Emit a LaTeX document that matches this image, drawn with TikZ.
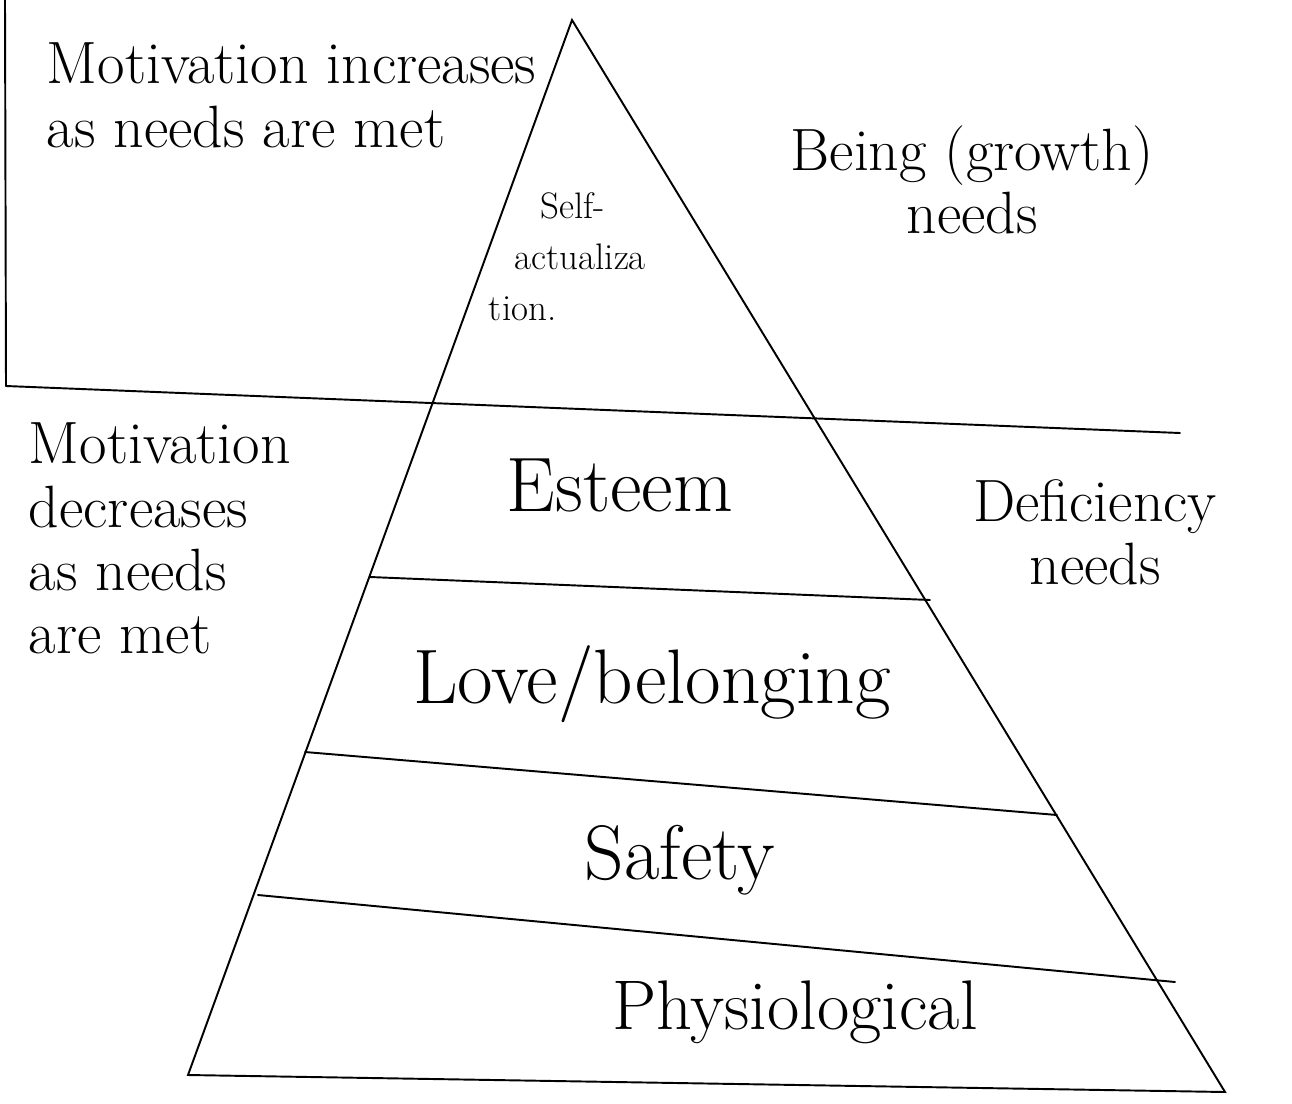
\documentclass[tikz,border=0pt]{standalone}

\begin{document}
\begin{tikzpicture}[x=0.02cm,y=-0.02cm,line width=1.1pt,line cap=round,every node/.style={inner sep=0pt,align=left},side/.style={font=\fontsize{34}{36}\selectfont},level/.style={font=\fontsize{44}{48}\selectfont},self/.style={font=\fontsize{21}{29}\selectfont}]
\useasboundingbox (0,0) rectangle (1292,1103);
\coordinate (apex) at (572,20);
\coordinate (bl) at (188,1075);
\coordinate (br) at (1225,1092);
\draw (bl) -- (apex) -- (br) -- cycle;
\coordinate (edgetop) at (5,0);
\coordinate (g1) at (6,386);
\coordinate (g2) at (1180,433);
\coordinate (e1) at (370,577);
\coordinate (e2) at (930,600);
\coordinate (l1) at (305,752);
\coordinate (l2) at (1057,815);
\coordinate (s1) at (258,895);
\coordinate (s2) at (1175,982);
\draw (edgetop) -- (g1);
\draw (g1) -- (g2);
\draw (e1) -- (e2);
\draw (l1) -- (l2);
\draw (s1) -- (s2);
\node[side,anchor=north west] (incr) at (46,42) {Motivation increases\\as needs are met};
\node[side,align=center] (being) at (972,180) {Being (growth)\\needs};
\node[self,anchor=north west] (selfact) at (488,192) {\hspace*{1.4em}Self-\\\hspace*{0.7em}actualiza\\tion.};
\node[side,anchor=north west] (decr) at (28,422) {Motivation\\decreases\\as needs\\are met};
\node[level] (esteem) at (620,485) {Esteem};
\node[side,align=center] (defic) at (1095,532) {Deficiency\\needs};
\node[level] (love) at (652,684) {Love/belonging};
\node[level] (safety) at (680,860) {Safety};
\node[level,font=\fontsize{40}{44}\selectfont] (physio) at (795,1012) {Physiological};
\end{tikzpicture}
\end{document}
